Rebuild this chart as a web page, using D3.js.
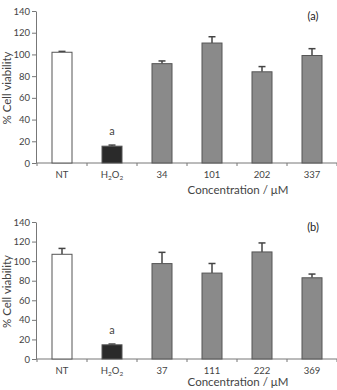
<!DOCTYPE html>
<html>
<head>
<meta charset="utf-8">
<script src="https://cdn.jsdelivr.net/npm/d3@7"></script>
<style>
  body { margin: 0; background: #fff; }
  svg { display: block; font-family: Lato, "Open Sans", sans-serif; }
</style>
</head>
<body>
<svg id="chart" width="337" height="390"></svg>
<script>
// panel (a)
var categoriesA = ['NT', 'H2O2', '34', '101', '202', '337'];
var valuesA = [102, 15.5, 91.5, 110.5, 84, 99];
var errorsA = [0.8, 1, 2.5, 5.8, 4.8, 6.3];

// panel (b)
var categoriesB = ['NT', 'H2O2', '37', '111', '222', '369'];
var valuesB = [107, 14.5, 97.5, 87.8, 109.4, 83];
var errorsB = [6, 0.8, 11.5, 9.8, 9.2, 3.8];

var yTicks = [0, 20, 40, 60, 80, 100, 120, 140];
var groupKind = ['control', 'peroxide', 'dose', 'dose', 'dose', 'dose'];

var FILL = { control: '#ffffff', peroxide: '#2a2a2a', dose: '#8a8a8a' };
var TEXT = '#444';
var LINE = '#777';

var svg = d3.select('#chart');

drawPanel({ cats: categoriesA, vals: valuesA, errs: errorsA, tag: '(a)', y0: 163, y1: 11, xTitleY: 194 });
drawPanel({ cats: categoriesB, vals: valuesB, errs: errorsB, tag: '(b)', y0: 359, y1: 222, xTitleY: 386 });

function drawPanel(p) {
  var g = svg.append('g');
  var x = d3.scaleBand().domain(p.cats).range([37, 337]).paddingInner(0.6).paddingOuter(0.3);
  var y = d3.scaleLinear().domain([0, 140]).range([p.y0, p.y1]);

  // y axis
  var yAx = g.append('g')
    .attr('transform', 'translate(36,0)')
    .call(d3.axisLeft(y).tickValues(yTicks).tickSize(4).tickPadding(2).tickSizeOuter(0));
  yAx.select('.domain').attr('stroke', LINE);
  yAx.selectAll('.tick line').attr('stroke', LINE);
  yAx.selectAll('.tick text').attr('fill', TEXT).style('font-size', '9.5px').style('font-family', 'Lato, sans-serif');

  // x axis line + boundary ticks
  g.append('line').attr('x1', 36).attr('x2', 337).attr('y1', p.y0).attr('y2', p.y0).attr('stroke', LINE);
  g.selectAll('.bnd').data(d3.range(p.cats.length + 1)).join('line')
    .attr('class', 'bnd')
    .attr('x1', function (i) { return x.range()[0] + i * x.step(); })
    .attr('x2', function (i) { return x.range()[0] + i * x.step(); })
    .attr('y1', p.y0).attr('y2', p.y0 + 3)
    .attr('stroke', LINE);

  // category labels
  g.selectAll('.cat').data(p.cats).join('text')
    .attr('class', 'cat')
    .attr('x', function (d) { return x(d) + x.bandwidth() / 2; })
    .attr('y', p.y0 + 15)
    .attr('text-anchor', 'middle')
    .attr('fill', TEXT)
    .style('font-size', '9.5px')
    .each(function (d) {
      var t = d3.select(this);
      if (d === 'H2O2') {
        t.append('tspan').text('H');
        t.append('tspan').text('2').attr('dy', 2).style('font-size', '6.5px');
        t.append('tspan').text('O').attr('dy', -2);
        t.append('tspan').text('2').attr('dy', 2).style('font-size', '6.5px');
      } else {
        t.text(d);
      }
    });

  // error bars (upper only)
  var rows = p.cats.map(function (c, i) { return { c: c, v: p.vals[i], e: p.errs[i], k: groupKind[i] }; });
  var eb = g.selectAll('.err').data(rows).join('g').attr('class', 'err')
    .attr('stroke', '#444').attr('stroke-width', 1.5);
  eb.append('line')
    .attr('x1', function (d) { return x(d.c) + x.bandwidth() / 2; })
    .attr('x2', function (d) { return x(d.c) + x.bandwidth() / 2; })
    .attr('y1', function (d) { return y(d.v); })
    .attr('y2', function (d) { return y(d.v + d.e); });
  eb.append('line')
    .attr('x1', function (d) { return x(d.c) + x.bandwidth() / 2 - 3.5; })
    .attr('x2', function (d) { return x(d.c) + x.bandwidth() / 2 + 3.5; })
    .attr('y1', function (d) { return y(d.v + d.e); })
    .attr('y2', function (d) { return y(d.v + d.e); });

  // bars
  g.selectAll('.bar').data(rows).join('rect')
    .attr('class', 'bar')
    .attr('x', function (d) { return x(d.c); })
    .attr('width', x.bandwidth())
    .attr('y', function (d) { return y(d.v); })
    .attr('height', function (d) { return y(0) - y(d.v); })
    .attr('fill', function (d) { return FILL[d.k]; })
    .attr('stroke', '#555')
    .attr('stroke-width', 1);

  // significance mark above H2O2
  g.append('text')
    .attr('x', x('H2O2') + x.bandwidth() / 2)
    .attr('y', y(p.vals[1]) - 11)
    .attr('text-anchor', 'middle')
    .attr('fill', TEXT)
    .style('font-size', '11px')
    .text('a');

  // panel tag
  g.append('text')
    .attr('x', 313).attr('y', y(140) + 9)
    .attr('text-anchor', 'middle')
    .attr('fill', '#222')
    .style('font-size', '11px')
    .text(p.tag);

  // axis titles
  g.append('text')
    .attr('transform', 'translate(11,' + ((p.y0 + p.y1) / 2 + 1) + ') rotate(-90)')
    .attr('text-anchor', 'middle')
    .attr('fill', TEXT)
    .style('font-size', '11.5px')
    .text('% Cell viability');
  g.append('text')
    .attr('x', 238).attr('y', p.xTitleY)
    .attr('text-anchor', 'middle')
    .attr('fill', TEXT)
    .style('font-size', '11.5px')
    .text('Concentration / μM');
}
</script>
</body>
</html>
